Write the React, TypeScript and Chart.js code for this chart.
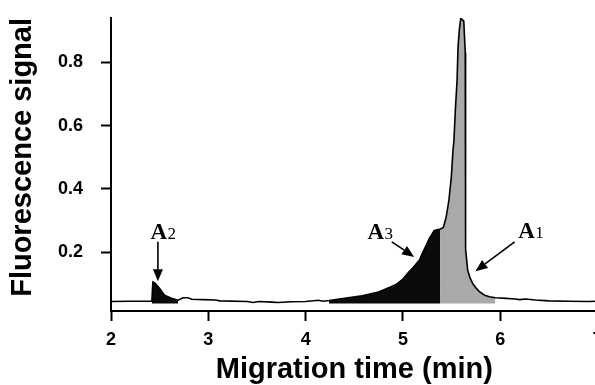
import React, { useEffect, useRef } from "react";
import { Chart, registerables } from "chart.js";

Chart.register(...registerables);

// ---- data ----
const migrationTime = [
  2.0, 2.2, 2.42, 2.43, 2.45, 2.5, 2.55, 2.62, 2.69, 2.74, 2.79, 2.83, 2.95, 3.07, 3.12, 3.4, 3.46, 3.52,
  3.65, 3.72, 3.85, 4.0, 4.13, 4.18, 4.24, 4.4, 4.58, 4.75, 4.86, 4.93, 5.0, 5.06, 5.1, 5.17, 5.2, 5.24,
  5.27, 5.3, 5.32, 5.35, 5.386, 5.415, 5.444, 5.472, 5.497, 5.514, 5.524, 5.538, 5.556, 5.566, 5.58, 5.594,
  5.625, 5.64, 5.645, 5.642, 5.665, 5.69, 5.717, 5.75, 5.786, 5.84, 5.889, 5.95, 6.062, 6.15, 6.2, 6.26, 6.36,
  6.5, 6.7, 6.9, 7.0,
];
const fluorescence = [
  0.044, 0.045, 0.045, 0.106, 0.103, 0.085, 0.064, 0.054, 0.048, 0.056, 0.056, 0.051, 0.05, 0.049, 0.046, 0.044,
  0.041, 0.044, 0.042, 0.041, 0.043, 0.044, 0.048, 0.045, 0.047, 0.054, 0.062, 0.074, 0.088, 0.098, 0.115, 0.137,
  0.15, 0.175, 0.197, 0.222, 0.243, 0.258, 0.268, 0.271, 0.273, 0.278, 0.311, 0.364, 0.438, 0.522, 0.554, 0.648,
  0.743, 0.848, 0.905, 0.939, 0.93, 0.83, 0.45, 0.21, 0.143, 0.118, 0.101, 0.087, 0.075, 0.064, 0.059, 0.056,
  0.054, 0.052, 0.05, 0.052, 0.049, 0.046, 0.045, 0.044, 0.045,
];

const xTicks = [2, 3, 4, 5, 6, 7];
const yTicks = [0.2, 0.4, 0.6, 0.8];
const xRange = [2, 7];
const yRange = [0.014, 0.94];

// shaded peak areas (migration-time ranges) and fill floor
const fillFloor = 0.038;
const regionA2 = [2.42, 2.7];
const regionA3 = [4.2, 5.386];
const regionA1 = [5.386, 5.96];

// peak annotations (data coordinates)
const annotationLetter = ["A", "A", "A"];
const annotationIndex = ["2", "3", "1"];
const labelX = [2.535, 4.764, 6.313];
const labelY = [0.243, 0.243, 0.244];
const arrowFromX = [2.482, 4.885, 6.148];
const arrowFromY = [0.2325, 0.2325, 0.2325];
const arrowToX = [2.482, 5.115, 5.745];
const arrowToY = [0.108, 0.185, 0.14];

const SANS = "'Liberation Sans', Arial, Helvetica, sans-serif";
const SERIF = "'Liberation Serif', 'Times New Roman', serif";

const points = migrationTime.map((x, i) => ({ x, y: fluorescence[i] }));
const pointsIn = (r: number[]) => points.filter((p) => p.x >= r[0] && p.x <= r[1]);

const annotationPlugin = {
  id: "peakAnnotations",
  afterDatasetsDraw(chart: any) {
    const { ctx } = chart;
    const xs = chart.scales.x;
    const ys = chart.scales.y;
    ctx.save();
    ctx.fillStyle = "#000";
    ctx.strokeStyle = "#000";
    for (let i = 0; i < annotationLetter.length; i++) {
      const bigFont = `bold 23px ${SERIF}`;
      const smallFont = `17px ${SERIF}`;
      ctx.font = bigFont;
      const w1 = ctx.measureText(annotationLetter[i]).width;
      ctx.font = smallFont;
      const w2 = ctx.measureText(annotationIndex[i]).width;
      const cx = xs.getPixelForValue(labelX[i]);
      const by = ys.getPixelForValue(labelY[i]);
      const start = cx - (w1 + w2) / 2;
      ctx.textBaseline = "alphabetic";
      ctx.textAlign = "left";
      ctx.font = bigFont;
      ctx.fillText(annotationLetter[i], start, by);
      ctx.font = smallFont;
      ctx.fillText(annotationIndex[i], start + w1 + 0.5, by);

      const x1 = xs.getPixelForValue(arrowFromX[i]);
      const y1 = ys.getPixelForValue(arrowFromY[i]);
      const x2 = xs.getPixelForValue(arrowToX[i]);
      const y2 = ys.getPixelForValue(arrowToY[i]);
      const ang = Math.atan2(y2 - y1, x2 - x1);
      const headLen = 12;
      const headHalf = 5;
      const bx = x2 - headLen * Math.cos(ang);
      const byy = y2 - headLen * Math.sin(ang);
      ctx.lineWidth = 1.6;
      ctx.beginPath();
      ctx.moveTo(x1, y1);
      ctx.lineTo(bx, byy);
      ctx.stroke();
      ctx.beginPath();
      ctx.moveTo(x2, y2);
      ctx.lineTo(bx + headHalf * Math.sin(ang), byy - headHalf * Math.cos(ang));
      ctx.lineTo(bx - headHalf * Math.sin(ang), byy + headHalf * Math.cos(ang));
      ctx.closePath();
      ctx.fill();
    }
    ctx.restore();
  },
};

export default function App() {
  const canvasRef = useRef<HTMLCanvasElement | null>(null);

  useEffect(() => {
    const canvas = canvasRef.current;
    if (!canvas) return;
    const chart = new Chart(canvas, {
      type: "line",
      data: {
        datasets: [
          {
            label: "Fluorescence signal",
            data: points,
            borderColor: "#000",
            borderWidth: 1.6,
            pointRadius: 0,
            tension: 0,
            fill: false,
            order: 0,
          },
          {
            label: "A2",
            data: pointsIn(regionA2),
            borderWidth: 0,
            pointRadius: 0,
            backgroundColor: "#0a0a0a",
            fill: { value: fillFloor },
            order: 1,
          },
          {
            label: "A3",
            data: pointsIn(regionA3),
            borderWidth: 0,
            pointRadius: 0,
            backgroundColor: "#0a0a0a",
            fill: { value: fillFloor },
            order: 1,
          },
          {
            label: "A1",
            data: pointsIn(regionA1),
            borderWidth: 0,
            pointRadius: 0,
            backgroundColor: "#a9a9a9",
            fill: { value: fillFloor },
            order: 1,
          },
        ],
      } as any,
      options: {
        responsive: false,
        animation: false,
        devicePixelRatio: 1,
        layout: { padding: { top: 18, right: 22.4, bottom: 0, left: 0 } },
        plugins: {
          legend: { display: false },
          tooltip: { enabled: false },
        },
        scales: {
          x: {
            type: "linear",
            min: xRange[0],
            max: xRange[1],
            afterBuildTicks: (s: any) => {
              s.ticks = xTicks.map((v) => ({ value: v }));
            },
            afterFit: (s: any) => {
              s.height = 74;
              s.paddingLeft = 0;
              s.paddingRight = 0;
            },
            ticks: {
              autoSkip: false,
              maxRotation: 0,
              padding: 8,
              color: "#000",
              font: { family: SANS, weight: "bold", size: 18 },
              callback: (v: any) => String(v),
            },
            grid: {
              drawOnChartArea: false,
              drawTicks: true,
              tickLength: 10,
              tickWidth: 2,
              tickColor: "#000",
            },
            border: { display: true, color: "#000", width: 2 },
            title: {
              display: true,
              text: "Migration time (min)",
              color: "#000",
              font: { family: SANS, weight: "bold", size: 29, lineHeight: 1 },
              padding: { top: 0, bottom: 1 },
            },
          },
          y: {
            type: "linear",
            min: yRange[0],
            max: yRange[1],
            afterBuildTicks: (s: any) => {
              s.ticks = yTicks.map((v) => ({ value: v }));
            },
            afterFit: (s: any) => {
              s.width = 111;
              s.paddingTop = 0;
              s.paddingBottom = 0;
            },
            ticks: {
              autoSkip: false,
              padding: 18,
              color: "#000",
              font: { family: SANS, weight: "bold", size: 18 },
              callback: (v: any) => Number(v).toFixed(1),
            },
            grid: {
              drawOnChartArea: false,
              drawTicks: true,
              tickLength: 10,
              tickWidth: 2,
              tickColor: "#000",
            },
            border: { display: true, color: "#000", width: 2 },
            title: {
              display: true,
              text: "Fluorescence signal",
              align: "end",
              color: "#000",
              font: { family: SANS, weight: "bold", size: 29, lineHeight: 1 },
              padding: { top: 8.5, bottom: 0 },
            },
          },
        },
      } as any,
      plugins: [annotationPlugin],
    });
    return () => chart.destroy();
  }, []);

  return (
    <div
      style={{
        position: "fixed",
        left: 0,
        top: 0,
        width: 595,
        height: 385,
        overflow: "hidden",
        background: "#fff",
      }}
    >
      <canvas ref={canvasRef} width={620} height={385} style={{ display: "block" }} />
    </div>
  );
}
